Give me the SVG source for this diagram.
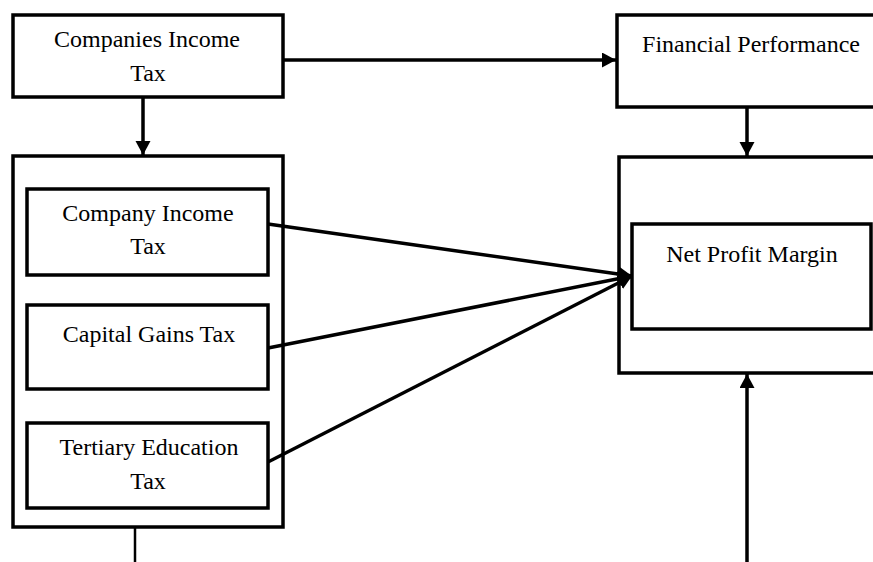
<svg xmlns="http://www.w3.org/2000/svg" width="873" height="562" viewBox="0 0 873 562">
<style>
.box{fill:#fff;stroke:#000;stroke-width:3.5}
.frame{fill:none;stroke:#000;stroke-width:3.5}
.t{font-family:"Liberation Serif","Times New Roman",serif;font-size:24px;fill:#000;text-anchor:middle}
.c{stroke:#000;stroke-width:3.5;fill:none}
</style>
<defs>
<marker id="ah" markerUnits="userSpaceOnUse" markerWidth="16" markerHeight="16" refX="14" refY="7.5" orient="auto">
<path d="M0,0 L14,7.5 L0,15 z" fill="#000"/>
</marker>
</defs>
<rect width="873" height="562" fill="#fff"/>
<g id="companies-income-tax">
<rect class="box" x="13" y="15" width="270" height="82"/>
<text class="t" x="147" y="47">Companies Income</text>
<text class="t" x="148" y="81">Tax</text>
</g>
<g id="tax-group">
<rect class="frame" x="13" y="156" width="270" height="371"/>
</g>
<g id="company-income-tax">
<rect class="box" x="27" y="189" width="241" height="86"/>
<text class="t" x="148" y="221">Company Income</text>
<text class="t" x="148" y="254">Tax</text>
</g>
<g id="capital-gains-tax">
<rect class="box" x="27" y="305" width="241" height="84"/>
<text class="t" x="149" y="342">Capital Gains Tax</text>
</g>
<g id="tertiary-education-tax">
<rect class="box" x="27" y="423" width="241" height="85"/>
<text class="t" x="149" y="455">Tertiary Education</text>
<text class="t" x="148" y="489">Tax</text>
</g>
<g id="financial-performance">
<rect class="box" x="617" y="15" width="270" height="92"/>
<text class="t" x="751" y="52">Financial  Performance</text>
</g>
<g id="performance-group">
<rect class="frame" x="619" y="157" width="270" height="216"/>
</g>
<g id="net-profit-margin">
<rect class="box" x="632" y="224" width="239" height="105"/>
<text class="t" x="752" y="262">Net Profit Margin</text>
</g>
<g id="connectors">
<line class="c" x1="283" y1="60" x2="616" y2="60" marker-end="url(#ah)"/>
<line class="c" x1="143" y1="97" x2="143" y2="155" marker-end="url(#ah)"/>
<line class="c" x1="747" y1="107" x2="747" y2="156" marker-end="url(#ah)"/>
<line class="c" x1="268" y1="224" x2="632" y2="276" marker-end="url(#ah)"/>
<line class="c" x1="268" y1="348" x2="632" y2="276" marker-end="url(#ah)"/>
<line class="c" x1="268" y1="462" x2="632" y2="276" marker-end="url(#ah)"/>
<line class="c" x1="747" y1="562" x2="747" y2="374" marker-end="url(#ah)"/>
<line x1="135" y1="527" x2="135" y2="562" stroke="#000" stroke-width="2.5"/>
</g>
</svg>
